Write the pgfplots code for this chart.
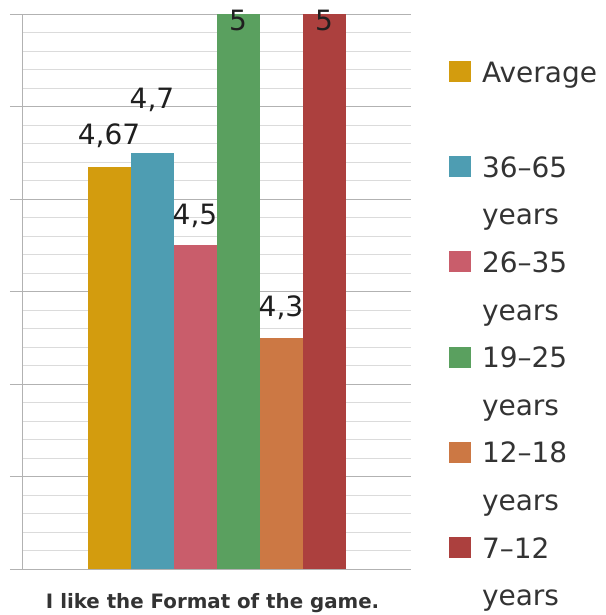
\documentclass[border=0pt]{standalone}
\usepackage{fontspec}
\setmainfont{DejaVu Sans}
\usepackage{pgfplots}
\pgfplotsset{compat=1.18}
\definecolor{cAvg}{HTML}{D39C0E}
\definecolor{cA}{HTML}{4E9DB2}
\definecolor{cB}{HTML}{C95D6B}
\definecolor{cC}{HTML}{5AA05F}
\definecolor{cD}{HTML}{CC7844}
\definecolor{cE}{HTML}{AC403E}
\definecolor{textgray}{HTML}{333333}
\pgfplotsset{
  sq/.style={legend image code/.code={\fill[##1] (0bp,0bp) rectangle (22bp,21bp);}},
  mybar/.style={ybar, bar width=43bp, draw=none, sq},
}
\begin{document}
\begin{tikzpicture}
\useasboundingbox (0,0) rectangle (606bp,615bp);
\begin{axis}[
  at={(22bp,46bp)}, anchor=south west, scale only axis,
  width=389bp, height=555bp,
  xmin=-1, xmax=1, ymin=3.8, ymax=5,
  xtick=\empty,
  ytick={3.8,4,4.2,4.4,4.6,4.8,5}, yticklabels={},
  minor y tick num=4,
  ymajorgrids, yminorgrids,
  major grid style={draw=gray!60, line width=0.8bp},
  minor grid style={draw=gray!28, line width=0.8bp},
  major tick length=12bp, minor tick length=0pt,
  tick align=outside, ytick pos=left,
  tick style={draw=gray!60, line width=0.8bp},
  axis x line*=bottom, axis y line*=left,
  x axis line style={draw=none},
  y axis line style={draw=gray!60, line width=0.8bp, -},
  clip=false,
  xlabel={\bfseries I like the Format of the game.},
  xlabel style={at={(axis description cs:0.49,0)}, anchor=base, yshift=-39bp,
    font=\fontsize{19.8bp}{24bp}\selectfont, text=textgray, inner sep=0pt},
  nodes near coords, point meta=explicit symbolic,
  every node near coord/.append style={font=\fontsize{28bp}{34bp}\selectfont,
    anchor=base, inner sep=0pt, text=black!88},
  legend style={at={(axis description cs:1.0977,0.9153)}, anchor=north west,
    draw=none, fill=none, inner sep=0pt, outer sep=0pt,
    row sep=19.6bp, column sep=11bp,
    font=\fontsize{28bp}{34bp}\selectfont, text=textgray,
    cells={anchor=base west},
    nodes={inner sep=0pt, text height=21bp, text depth=7bp}},
]
\addplot[mybar, fill=cAvg, bar shift=-107.5bp, every node near coord/.append style={xshift=-107.5bp, yshift=22bp}]
  coordinates {(0,4.67) [{4,67}]};
\addlegendentry{Average}
\addlegendimage{empty legend}
\addlegendentry{}
\addplot[mybar, fill=cA, bar shift=-64.5bp, every node near coord/.append style={xshift=-64.5bp, yshift=44bp}]
  coordinates {(0,4.7) [{4,7}]};
\addlegendentry{36–65}
\addlegendimage{empty legend}
\addlegendentry{years}
\addplot[mybar, fill=cB, bar shift=-21.5bp, every node near coord/.append style={xshift=-21.5bp, yshift=21bp}]
  coordinates {(0,4.5) [{4,5}]};
\addlegendentry{26–35}
\addlegendimage{empty legend}
\addlegendentry{years}
\addplot[mybar, fill=cC, bar shift=21.5bp, every node near coord/.append style={xshift=21.5bp, yshift=-17bp}]
  coordinates {(0,5) [5]};
\addlegendentry{19–25}
\addlegendimage{empty legend}
\addlegendentry{years}
\addplot[mybar, fill=cD, bar shift=64.5bp, every node near coord/.append style={xshift=64.5bp, yshift=21bp}]
  coordinates {(0,4.3) [{4,3}]};
\addlegendentry{12–18}
\addlegendimage{empty legend}
\addlegendentry{years}
\addplot[mybar, fill=cE, bar shift=107.5bp, every node near coord/.append style={xshift=107.5bp, yshift=-17bp}]
  coordinates {(0,5) [5]};
\addlegendentry{7–12}
\addlegendimage{empty legend}
\addlegendentry{years}
\end{axis}
\end{tikzpicture}
\end{document}
